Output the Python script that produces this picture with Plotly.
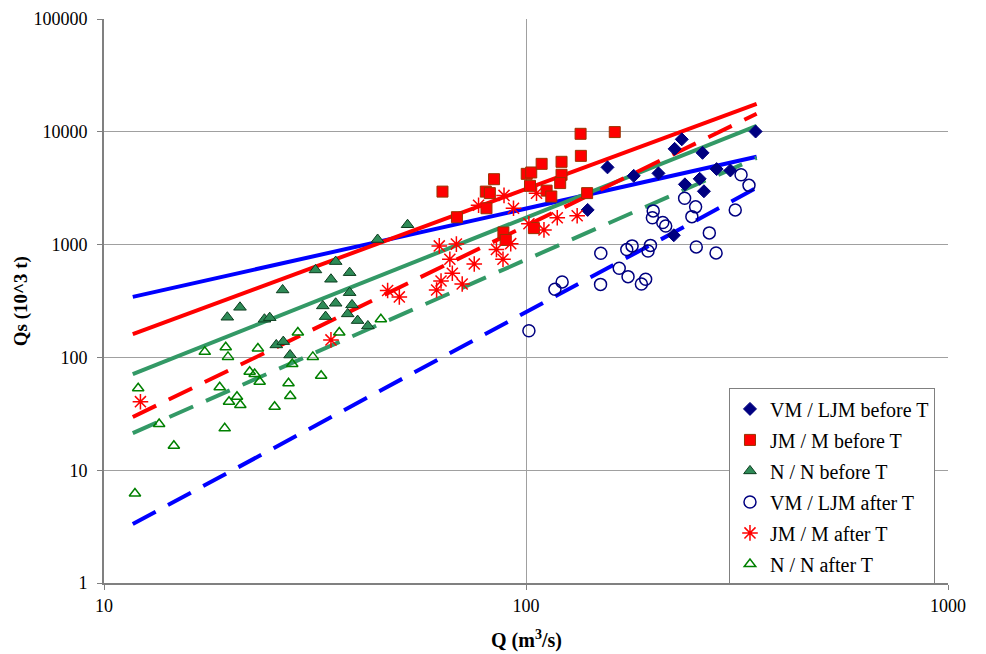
import plotly.graph_objects as go

# ---------------- data ----------------
VM_before_Q = [140, 156, 180, 206, 224, 225, 234, 238, 258, 262, 264, 283, 305, 350]
VM_before_Qs = [2030, 4840, 4070, 4280, 1210, 7060, 8580, 3420, 3830, 6510, 2970, 4670, 4540, 10060]

JM_before_Q = [63.4, 68.6, 80.3, 82.1, 84.0, 80.6, 88.4, 89.5, 100.4, 102.9, 102.2, 104.4, 108.9,
               111.9, 114.8, 121.4, 121.4, 120.5, 134.7, 134.9, 162.3, 139.6]
JM_before_Qs = [2950, 1750, 2950, 2860, 3800, 2100, 1280, 1100, 4240, 4360, 3320, 1400, 5200,
                3010, 2670, 5420, 4160, 3510, 9600, 6120, 9940, 2860]

N_before_Q = [19.6, 21.0, 24.0, 24.7, 25.6, 26.6, 26.5, 27.6, 31.7, 33.0, 33.5, 34.5, 35.4, 35.4,
              37.8, 38.2, 38.2, 38.7, 39.9, 42.2, 44.5, 52.4]
N_before_Qs = [227, 278, 218, 225, 129, 138, 396, 105, 596, 286, 230, 493, 707, 302,
               243, 564, 375, 292, 212, 190, 1110, 1500]

VM_after_Q = [101.6, 117.1, 121.8, 150.4, 150.2, 166.3, 174.5, 173.3, 178.4, 187.7, 192.1, 194.6,
              197.2, 200.2, 199.3, 210.9, 214.3, 237.6, 252.3, 247.2, 253.2, 271.9, 282.1, 313.2,
              323.3, 337.6]
VM_after_Qs = [172, 402, 467, 839, 444, 617, 520, 903, 974, 448, 493, 879,
               984, 1990, 1730, 1570, 1460, 2580, 2160, 1770, 954, 1270, 844, 2030,
               4160, 3350]

JM_after_Q = [12.2, 34.5, 47.0, 50.1, 61.4, 62.3, 62.9, 66.0, 66.9, 68.4, 70.6, 75.4, 77.2, 85.1,
              88.2, 88.7, 92.0, 93.4, 101.6, 105.9, 110.3, 118.6, 132.2]
JM_after_Qs = [40.5, 143, 392, 344, 396, 974, 476, 742, 557, 1010, 448, 674, 2230, 907,
               742, 2730, 1020, 2100, 1530, 2850, 1350, 1730, 1800]

N_after_Q = [11.84, 12.05, 13.51, 14.64, 17.33, 18.8, 19.32, 19.43, 19.67, 19.78, 20.66, 21.04,
             22.14, 22.75, 23.16, 23.38, 25.37, 27.37, 27.63, 27.93, 28.8, 31.25, 32.7, 36.1, 45.3]
N_after_Qs = [6.22, 53.2, 25.7, 16.5, 112, 54.3, 23.5, 123, 101, 40.5, 44.8, 37.8,
              74.7, 71.3, 120, 60.9, 36.5, 58.9, 45.4, 87.4, 166, 101, 68.8, 166, 218]

# trend line end points (Q range of the fits)
trend_Q = [11.7, 352]
trend_VM_before = [344, 6000]
trend_JM_before = [161, 17700]
trend_N_before = [71, 11300]
trend_VM_after = [3.33, 3190]
trend_JM_after = [29.6, 14460]
trend_N_after = [21.3, 5870]

x_ticks = [10, 100, 1000]
y_ticks = [1, 10, 100, 1000, 10000, 100000]

FONT = "Liberation Serif, Times New Roman, serif"
BLUE = "#0000FF"
RED = "#FF0000"
GREEN = "#339966"
NAVY = "#000080"
DASH = "26px,14px"

fig = go.Figure()

# trend lines
for ys, col, dash in [
    (trend_VM_before, BLUE, "solid"),
    (trend_JM_before, RED, "solid"),
    (trend_N_before, GREEN, "solid"),
    (trend_VM_after, BLUE, DASH),
    (trend_JM_after, RED, DASH),
    (trend_N_after, GREEN, DASH),
]:
    fig.add_trace(go.Scatter(x=trend_Q, y=ys, mode="lines",
                             line=dict(color=col, width=4, dash=dash),
                             showlegend=False, hoverinfo="skip"))

# series
series = [
    ("VM / LJM before T", VM_before_Q, VM_before_Qs,
     dict(symbol="diamond", size=10, color=NAVY, line=dict(color=NAVY, width=1))),
    ("JM / M before T", JM_before_Q, JM_before_Qs,
     dict(symbol="square", size=11, color=RED, line=dict(color="#993300", width=1))),
    ("N / N before T", N_before_Q, N_before_Qs,
     dict(symbol="triangle-up", size=11, color="#2E8B57", line=dict(color="#0B3D1E", width=1))),
    ("VM / LJM after T", VM_after_Q, VM_after_Qs,
     dict(symbol="circle-open", size=12, color=NAVY, line=dict(color=NAVY, width=1.5))),
    ("JM / M after T", JM_after_Q, JM_after_Qs,
     dict(symbol="asterisk-open", size=13, color=RED, line=dict(color=RED, width=1.5))),
    ("N / N after T", N_after_Q, N_after_Qs,
     dict(symbol="triangle-up-open", size=10, color="#008000", line=dict(color="#008000", width=1.5))),
]
for i, (name, xs, ys, mk) in enumerate(series):
    fig.add_trace(go.Scatter(x=xs, y=ys, mode="markers", name=name, marker=mk,
                             legendgroup=f"g{i}"))

axis_common = dict(
    type="log", showgrid=True, gridcolor="#A0A0A0", gridwidth=1,
    showline=True, linecolor="#808080", linewidth=2,
    ticks="outside", ticklen=5, tickcolor="#808080", tickwidth=1,
    tickfont=dict(family=FONT, size=18, color="black"),
    zeroline=False, automargin=False,
)

# the page body adds an 8px margin, so the figure is sized to fit the window
fig.update_layout(
    width=978, height=646,
    margin=dict(l=96, r=38, t=11, b=71),
    paper_bgcolor="white", plot_bgcolor="white",
    font=dict(family=FONT, color="black"),
    xaxis=dict(axis_common, range=[1, 3], tickvals=x_ticks,
               ticktext=[str(v) for v in x_ticks], ticklabelstandoff=0),
    yaxis=dict(axis_common, range=[0, 5], tickvals=y_ticks,
               ticktext=[str(v) for v in y_ticks], ticklabelstandoff=6),
    legend=dict(x=0.7405, y=0.345, xanchor="left", yanchor="top",
                bgcolor="white", bordercolor="#808080", borderwidth=1,
                font=dict(family=FONT, size=20, color="black"),
                tracegroupgap=2, itemsizing="trace"),
    annotations=[
        dict(text="<b>Q (m<sup>3</sup>/s)</b>", xref="paper", yref="paper",
             x=0.5, y=-0.1, yanchor="middle", xanchor="center", showarrow=False,
             font=dict(family=FONT, size=20, color="black")),
        dict(text="<b>Qs (10^3 t)</b>", xref="paper", yref="paper",
             x=-0.098, y=0.5, xanchor="center", yanchor="middle", textangle=-90,
             showarrow=False, font=dict(family=FONT, size=19, color="black")),
    ],
)

fig.write_html("out.html")
